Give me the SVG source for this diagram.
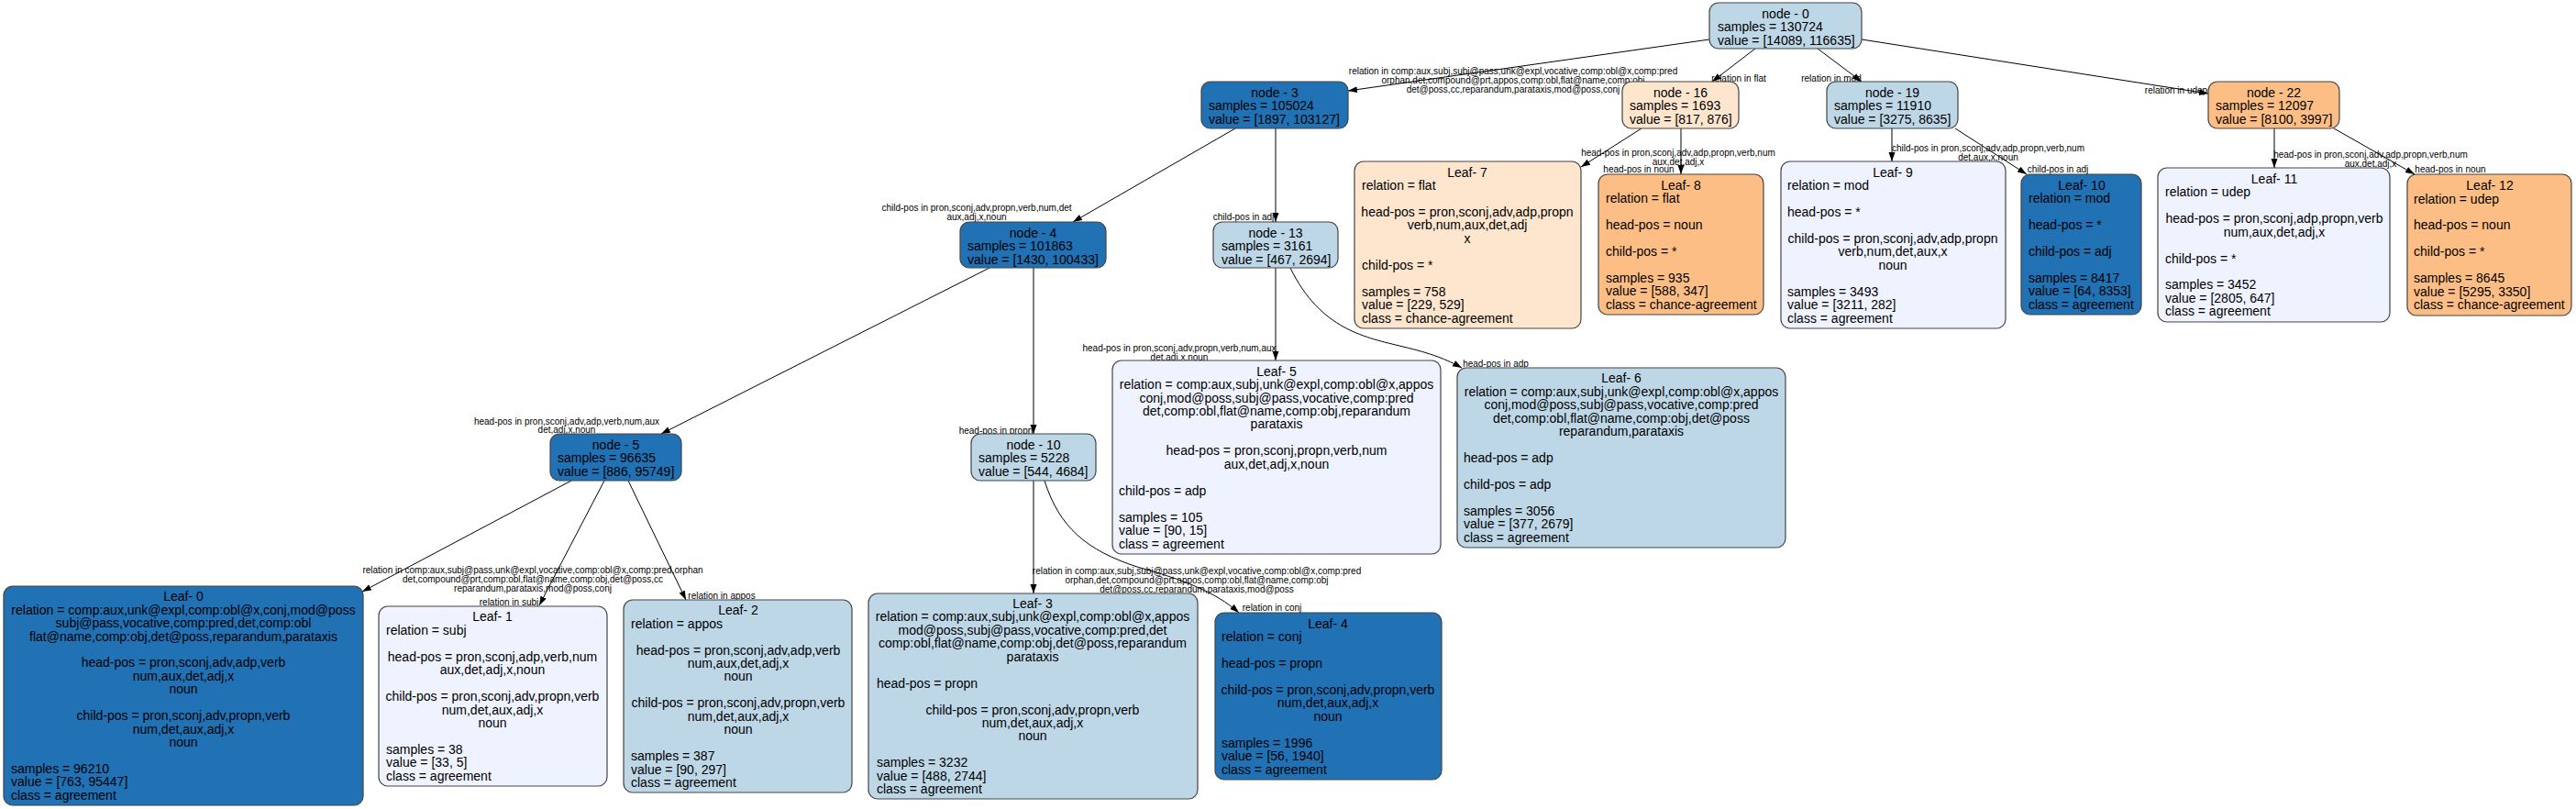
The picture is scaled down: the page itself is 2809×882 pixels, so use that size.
<svg xmlns="http://www.w3.org/2000/svg" width="2809" height="882" viewBox="0 0 2809 882">
<defs>
<marker id="arr" markerWidth="10" markerHeight="8" refX="10" refY="3.5" orient="auto" markerUnits="userSpaceOnUse"><path d="M0,0 L10,3.5 L0,7 z" fill="#000"/></marker>
</defs>
<style>
rect{stroke:#444;stroke-width:1.2}
.db{fill:#2171b5}.lb{fill:#bdd7e7}.vl{fill:#eff3ff}.lo{fill:#fee6ce}.or{fill:#fdbe85}
text{font-family:"Liberation Sans",Arial,sans-serif;font-size:14px;fill:#000}
.c{text-anchor:middle}
.e{stroke:#000;stroke-width:1;fill:none;marker-end:url(#arr)}
.el text{font-size:10px;text-anchor:middle}
</style>
<rect x="0" y="0" width="2809" height="882" fill="#fff" style="stroke:none"/>
<g id="connectors">
<path class="e" d="M1864,43 L1470,99"/>
<path class="e" d="M1914,53 L1867,89"/>
<path class="e" d="M1982,53 L2030,89"/>
<path class="e" d="M2030,43 L2408,102"/>
<path class="e" d="M1347,140 L1170,242"/>
<path class="e" d="M1391,140 L1391,242"/>
<path class="e" d="M1790,140 L1724,182"/>
<path class="e" d="M1833,140 L1833,190"/>
<path class="e" d="M2063,140 L2063,176"/>
<path class="e" d="M2132,140 L2210,190"/>
<path class="e" d="M2480,140 L2480,183"/>
<path class="e" d="M2545,140 L2633,190"/>
<path class="e" d="M1079,292 L721,473"/>
<path class="e" d="M1127,292 L1127,473"/>
<path class="e" d="M1391,292 L1391,393"/>
<path class="e" d="M1407,292 C1440,360 1490,368 1530,378 C1560,385 1578,392 1594,401"/>
<path class="e" d="M623,524 L395,645"/>
<path class="e" d="M659,524 L588,660"/>
<path class="e" d="M685,524 L748,654"/>
<path class="e" d="M1127,524 L1127,647"/>
<path class="e" d="M1139,524 C1155,575 1185,600 1240,618 C1290,632 1325,645 1351,668"/>
<g class="el">
<text x="1650" y="80.5">relation in comp:aux,subj,subj@pass,unk@expl,vocative,comp:obl@x,comp:pred</text>
<text x="1650" y="90.5">orphan,det,compound@prt,appos,comp:obl,flat@name,comp:obj</text>
<text x="1650" y="100.5">det@poss,cc,reparandum,parataxis,mod@poss,conj</text>
<text x="1896" y="88.5">relation in flat</text>
<text x="1997" y="88.5">relation in mod</text>
<text x="2373" y="101.5">relation in udep</text>
<text x="1830" y="169.5">head-pos in pron,sconj,adv,adp,propn,verb,num</text>
<text x="1830" y="179.5">aux,det,adj,x</text>
<text x="1787" y="187.5">head-pos in noun</text>
<text x="2168" y="164.5">child-pos in pron,sconj,adv,adp,propn,verb,num</text>
<text x="2168" y="174.5">det,aux,x,noun</text>
<text x="2244" y="187.5">child-pos in adj</text>
<text x="2585" y="171.5">head-pos in pron,sconj,adv,adp,propn,verb,num</text>
<text x="2585" y="181.5">aux,det,adj,x</text>
<text x="2672" y="187.5">head-pos in noun</text>
<text x="1065" y="229.5">child-pos in pron,sconj,adv,propn,verb,num,det</text>
<text x="1065" y="239.5">aux,adj,x,noun</text>
<text x="1356" y="239.5">child-pos in adj</text>
<text x="1286" y="382.5">head-pos in pron,sconj,adv,propn,verb,num,aux</text>
<text x="1286" y="392.5">det,adj,x,noun</text>
<text x="1631" y="399.5">head-pos in adp</text>
<text x="618" y="462.5">head-pos in pron,sconj,adv,adp,verb,num,aux</text>
<text x="618" y="471.5">det,adj,x,noun</text>
<text x="1086" y="472.5">head-pos in propn</text>
<text x="581" y="624.5">relation in comp:aux,subj@pass,unk@expl,vocative,comp:obl@x,comp:pred,orphan</text>
<text x="581" y="634.5">det,compound@prt,comp:obl,flat@name,comp:obj,det@poss,cc</text>
<text x="581" y="644.5">reparandum,parataxis,mod@poss,conj</text>
<text x="555" y="659.5">relation in subj</text>
<text x="787" y="652.5">relation in appos</text>
<text x="1305" y="625.5">relation in comp:aux,subj,subj@pass,unk@expl,vocative,comp:obl@x,comp:pred</text>
<text x="1305" y="635.5">orphan,det,compound@prt,appos,comp:obl,flat@name,comp:obj</text>
<text x="1305" y="645.5">det@poss,cc,reparandum,parataxis,mod@poss</text>
<text x="1387" y="665.5">relation in conj</text>
</g>
</g>
<g id="node-0"><rect class="lb" x="1864" y="3" width="166" height="50" rx="10"/>
<text class="c" x="1947" y="19.5">node - 0</text><text x="1873" y="34">samples = 130724</text><text x="1873" y="48.5">value = [14089, 116635]</text></g>
<g id="node-3"><rect class="db" x="1310" y="89" width="160" height="51" rx="10"/>
<text class="c" x="1390" y="105.5">node - 3</text><text x="1318" y="120">samples = 105024</text><text x="1318" y="134.5">value = [1897, 103127]</text></g>
<g id="node-16"><rect class="lo" x="1769" y="89" width="127" height="51" rx="10"/>
<text class="c" x="1832.5" y="105.5">node - 16</text><text x="1777" y="120">samples = 1693</text><text x="1777" y="134.5">value = [817, 876]</text></g>
<g id="node-19"><rect class="lb" x="1992" y="89" width="143" height="51" rx="10"/>
<text class="c" x="2063.5" y="105.5">node - 19</text><text x="2000" y="120">samples = 11910</text><text x="2000" y="134.5">value = [3275, 8635]</text></g>
<g id="node-22"><rect class="or" x="2408" y="89" width="143" height="51" rx="10"/>
<text class="c" x="2479.5" y="105.5">node - 22</text><text x="2416" y="120">samples = 12097</text><text x="2416" y="134.5">value = [8100, 3997]</text></g>
<g id="node-4"><rect class="db" x="1047" y="242" width="159" height="50" rx="10"/>
<text class="c" x="1126.5" y="258.5">node - 4</text><text x="1055" y="273">samples = 101863</text><text x="1055" y="287.5">value = [1430, 100433]</text></g>
<g id="node-13"><rect class="lb" x="1323" y="242" width="136" height="50" rx="10"/>
<text class="c" x="1391" y="258.5">node - 13</text><text x="1332" y="273">samples = 3161</text><text x="1332" y="287.5">value = [467, 2694]</text></g>
<g id="node-5"><rect class="db" x="600" y="473" width="143" height="51" rx="10"/>
<text class="c" x="671.5" y="489.5">node - 5</text><text x="608" y="504">samples = 96635</text><text x="608" y="518.5">value = [886, 95749]</text></g>
<g id="node-10"><rect class="lb" x="1059" y="473" width="136" height="51" rx="10"/>
<text class="c" x="1127" y="489.5">node - 10</text><text x="1067" y="504">samples = 5228</text><text x="1067" y="518.5">value = [544, 4684]</text></g>
<g id="leaf-7"><rect class="lo" x="1477" y="176" width="247" height="182" rx="10"/>
<text class="c" x="1600" y="192.5">Leaf- 7</text><text x="1485" y="207">relation = flat</text>
<text class="c" x="1600" y="235.9">head-pos = pron,sconj,adv,adp,propn</text><text class="c" x="1600" y="250.3">verb,num,aux,det,adj</text><text class="c" x="1600" y="264.8">x</text>
<text x="1485" y="293.7">child-pos = *</text>
<text x="1485" y="322.6">samples = 758</text><text x="1485" y="337">value = [229, 529]</text><text x="1485" y="351.5">class = chance-agreement</text></g>
<g id="leaf-8"><rect class="or" x="1743" y="190" width="180" height="153" rx="10"/>
<text class="c" x="1833" y="206.5">Leaf- 8</text><text x="1751" y="221">relation = flat</text>
<text x="1751" y="249.9">head-pos = noun</text><text x="1751" y="278.8">child-pos = *</text>
<text x="1751" y="307.7">samples = 935</text><text x="1751" y="322.1">value = [588, 347]</text><text x="1751" y="336.6">class = chance-agreement</text></g>
<g id="leaf-9"><rect class="vl" x="1942" y="176" width="245" height="182" rx="10"/>
<text class="c" x="2064" y="192.5">Leaf- 9</text><text x="1949" y="207">relation = mod</text>
<text x="1949" y="235.9">head-pos = *</text>
<text class="c" x="2064" y="264.8">child-pos = pron,sconj,adv,adp,propn</text><text class="c" x="2064" y="279.2">verb,num,det,aux,x</text><text class="c" x="2064" y="293.7">noun</text>
<text x="1949" y="322.6">samples = 3493</text><text x="1949" y="337">value = [3211, 282]</text><text x="1949" y="351.5">class = agreement</text></g>
<g id="leaf-10"><rect class="db" x="2204" y="190" width="131" height="153" rx="10"/>
<text class="c" x="2270" y="206.5">Leaf- 10</text><text x="2212" y="221">relation = mod</text>
<text x="2212" y="249.9">head-pos = *</text><text x="2212" y="278.8">child-pos = adj</text>
<text x="2212" y="307.7">samples = 8417</text><text x="2212" y="322.1">value = [64, 8353]</text><text x="2212" y="336.6">class = agreement</text></g>
<g id="leaf-11"><rect class="vl" x="2353" y="183" width="253" height="168" rx="10"/>
<text class="c" x="2480" y="199.8">Leaf- 11</text><text x="2361" y="214.2">relation = udep</text>
<text class="c" x="2480" y="243.1">head-pos = pron,sconj,adp,propn,verb</text><text class="c" x="2480" y="257.6">num,aux,det,adj,x</text>
<text x="2361" y="286.5">child-pos = *</text>
<text x="2361" y="315.4">samples = 3452</text><text x="2361" y="329.8">value = [2805, 647]</text><text x="2361" y="344.3">class = agreement</text></g>
<g id="leaf-12"><rect class="or" x="2625" y="190" width="179" height="154" rx="10"/>
<text class="c" x="2715" y="207">Leaf- 12</text><text x="2632" y="221.5">relation = udep</text>
<text x="2632" y="250.4">head-pos = noun</text><text x="2632" y="279.3">child-pos = *</text>
<text x="2632" y="308.2">samples = 8645</text><text x="2632" y="322.6">value = [5295, 3350]</text><text x="2632" y="337.1">class = chance-agreement</text></g>
<g id="leaf-5"><rect class="vl" x="1213" y="393" width="358" height="211" rx="10"/>
<text class="c" x="1392" y="409.6">Leaf- 5</text>
<text class="c" x="1392" y="424.1">relation = comp:aux,subj,unk@expl,comp:obl@x,appos</text>
<text class="c" x="1392" y="438.5">conj,mod@poss,subj@pass,vocative,comp:pred</text>
<text class="c" x="1392" y="453">det,comp:obl,flat@name,comp:obj,reparandum</text>
<text class="c" x="1392" y="467.4">parataxis</text>
<text class="c" x="1392" y="496.3">head-pos = pron,sconj,propn,verb,num</text>
<text class="c" x="1392" y="510.8">aux,det,adj,x,noun</text>
<text x="1220" y="539.7">child-pos = adp</text>
<text x="1220" y="568.6">samples = 105</text><text x="1220" y="583">value = [90, 15]</text><text x="1220" y="597.5">class = agreement</text></g>
<g id="leaf-6"><rect class="lb" x="1589" y="401" width="358" height="196" rx="10"/>
<text class="c" x="1768" y="417.3">Leaf- 6</text>
<text class="c" x="1768" y="431.8">relation = comp:aux,subj,unk@expl,comp:obl@x,appos</text>
<text class="c" x="1768" y="446.2">conj,mod@poss,subj@pass,vocative,comp:pred</text>
<text class="c" x="1768" y="460.7">det,comp:obl,flat@name,comp:obj,det@poss</text>
<text class="c" x="1768" y="475.1">reparandum,parataxis</text>
<text x="1596" y="504">head-pos = adp</text>
<text x="1596" y="532.9">child-pos = adp</text>
<text x="1596" y="561.8">samples = 3056</text><text x="1596" y="576.3">value = [377, 2679]</text><text x="1596" y="590.7">class = agreement</text></g>
<g id="leaf-0"><rect class="db" x="4" y="639" width="392" height="239" rx="10"/>
<text class="c" x="200" y="655.1">Leaf- 0</text>
<text class="c" x="200" y="669.6">relation = comp:aux,unk@expl,comp:obl@x,conj,mod@poss</text>
<text class="c" x="200" y="684">subj@pass,vocative,comp:pred,det,comp:obl</text>
<text class="c" x="200" y="698.5">flat@name,comp:obj,det@poss,reparandum,parataxis</text>
<text class="c" x="200" y="727.4">head-pos = pron,sconj,adv,adp,verb</text>
<text class="c" x="200" y="741.8">num,aux,det,adj,x</text>
<text class="c" x="200" y="756.3">noun</text>
<text class="c" x="200" y="785.2">child-pos = pron,sconj,adv,propn,verb</text>
<text class="c" x="200" y="799.6">num,det,aux,adj,x</text>
<text class="c" x="200" y="814.1">noun</text>
<text x="12" y="843">samples = 96210</text><text x="12" y="857.4">value = [763, 95447]</text><text x="12" y="871.9">class = agreement</text></g>
<g id="leaf-1"><rect class="vl" x="413" y="661" width="249" height="196" rx="10"/>
<text class="c" x="537" y="677.3">Leaf- 1</text><text x="421" y="691.8">relation = subj</text>
<text class="c" x="537" y="720.7">head-pos = pron,sconj,adp,verb,num</text>
<text class="c" x="537" y="735.1">aux,det,adj,x,noun</text>
<text class="c" x="537" y="764">child-pos = pron,sconj,adv,propn,verb</text>
<text class="c" x="537" y="778.5">num,det,aux,adj,x</text>
<text class="c" x="537" y="792.9">noun</text>
<text x="421" y="821.8">samples = 38</text><text x="421" y="836.3">value = [33, 5]</text><text x="421" y="850.7">class = agreement</text></g>
<g id="leaf-2"><rect class="lb" x="680" y="654" width="249" height="210" rx="10"/>
<text class="c" x="805" y="670.1">Leaf- 2</text><text x="688" y="684.6">relation = appos</text>
<text class="c" x="805" y="713.5">head-pos = pron,sconj,adv,adp,verb</text>
<text class="c" x="805" y="727.9">num,aux,det,adj,x</text>
<text class="c" x="805" y="742.4">noun</text>
<text class="c" x="805" y="771.3">child-pos = pron,sconj,adv,propn,verb</text>
<text class="c" x="805" y="785.7">num,det,aux,adj,x</text>
<text class="c" x="805" y="800.2">noun</text>
<text x="688" y="829.1">samples = 387</text><text x="688" y="843.5">value = [90, 297]</text><text x="688" y="858">class = agreement</text></g>
<g id="leaf-3"><rect class="lb" x="947" y="647" width="359" height="224" rx="10"/>
<text class="c" x="1126" y="662.9">Leaf- 3</text>
<text class="c" x="1126" y="677.3">relation = comp:aux,subj,unk@expl,comp:obl@x,appos</text>
<text class="c" x="1126" y="691.8">mod@poss,subj@pass,vocative,comp:pred,det</text>
<text class="c" x="1126" y="706.2">comp:obl,flat@name,comp:obj,det@poss,reparandum</text>
<text class="c" x="1126" y="720.7">parataxis</text>
<text x="956" y="749.6">head-pos = propn</text>
<text class="c" x="1126" y="778.5">child-pos = pron,sconj,adv,propn,verb</text>
<text class="c" x="1126" y="792.9">num,det,aux,adj,x</text>
<text class="c" x="1126" y="807.4">noun</text>
<text x="956" y="836.3">samples = 3232</text><text x="956" y="850.7">value = [488, 2744]</text><text x="956" y="865.2">class = agreement</text></g>
<g id="leaf-4"><rect class="db" x="1325" y="668" width="247" height="182" rx="10"/>
<text class="c" x="1448" y="684.5">Leaf- 4</text><text x="1332" y="699">relation = conj</text>
<text x="1332" y="727.9">head-pos = propn</text>
<text class="c" x="1448" y="756.8">child-pos = pron,sconj,adv,propn,verb</text>
<text class="c" x="1448" y="771.2">num,det,aux,adj,x</text>
<text class="c" x="1448" y="785.7">noun</text>
<text x="1332" y="814.6">samples = 1996</text><text x="1332" y="829">value = [56, 1940]</text><text x="1332" y="843.5">class = agreement</text></g>
</svg>
